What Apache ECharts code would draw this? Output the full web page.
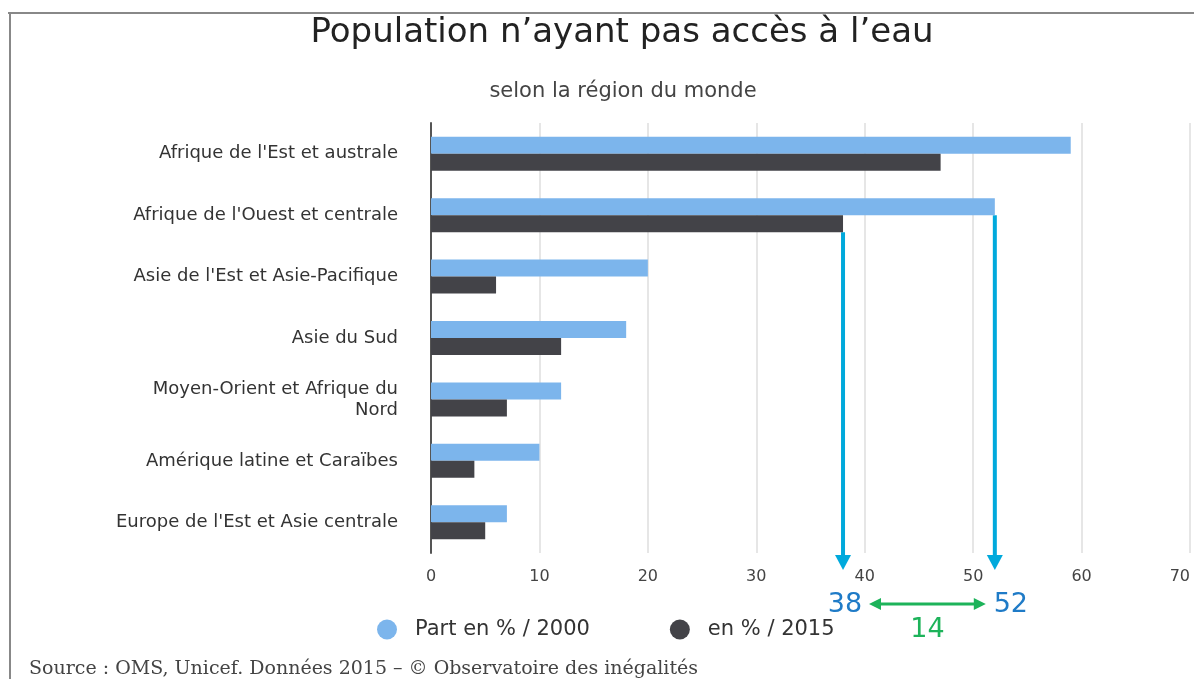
<!DOCTYPE html>
<html>
<head>
<meta charset="utf-8">
<script src="https://cdn.jsdelivr.net/npm/echarts@6/dist/echarts.min.js"></script>
<style>
html, body { margin: 0; padding: 0; background: #fff; }
#chart { width: 1194px; height: 679px; }
</style>
</head>
<body>
<div id="chart"></div>
<script>
// regions, top to bottom
var regions = [
    "Afrique de l'Est et australe",
    "Afrique de l'Ouest et centrale",
    "Asie de l'Est et Asie-Pacifique",
    "Asie du Sud",
    "Moyen-Orient et Afrique du Nord",
    "Amérique latine et Caraïbes",
    "Europe de l'Est et Asie centrale"
];
var part2000 = [59, 52, 20, 18, 12, 10, 7];
var part2015 = [47, 38, 6, 12, 7, 4, 5];
var seriesNames = ['Part en % / 2000', 'en % / 2015'];
var xMin = 0, xMax = 70, xStep = 10;
// the two values pointed out under the axis (Afrique de l'Ouest)
var noteRegion = 1;
var noteLow = 38, noteHigh = 52;

var barW = 17;
var sans = 'DejaVu Sans';
var chart = echarts.init(document.getElementById('chart'));

var option = {
    animation: false,
    title: [{
        text: 'Population n’ayant pas accès à l’eau',
        left: 617,
        top: 11,
        textAlign: 'center',
        textStyle: { fontFamily: sans, fontSize: 34, fontWeight: 'normal', color: '#222' }
    }, {
        text: 'selon la région du monde',
        left: 618,
        top: 76,
        textAlign: 'center',
        textStyle: { fontFamily: sans, fontSize: 21, fontWeight: 'normal', color: '#444' }
    }, {
        text: 'Source : OMS, Unicef. Données 2015 – © Observatoire des inégalités',
        left: 24,
        top: 655,
        textStyle: { fontFamily: 'DejaVu Serif', fontSize: 19, fontWeight: 'normal', color: '#444' }
    }],
    legend: {
        data: seriesNames,
        left: 372,
        top: 614,
        icon: 'path://M0,10A10,10,0,1,1,20,10A10,10,0,1,1,0,10Z',
        itemWidth: 26,
        itemHeight: 20,
        itemGap: 80,
        textStyle: { fontFamily: sans, fontSize: 21, color: '#333', padding: [0, 0, 0, 10] }
    },
    grid: {
        left: 431,
        right: 4,
        top: 123,
        bottom: 126,
        outerBoundsMode: 'none',
        containLabel: false
    },
    xAxis: {
        type: 'value',
        min: xMin,
        max: xMax,
        interval: xStep,
        axisLine: { show: false },
        axisTick: { show: false },
        splitLine: { lineStyle: { color: '#e6e6e6', width: 2 } },
        axisLabel: { margin: 16, fontFamily: sans, fontSize: 16, color: '#444', alignMaxLabel: 'right' }
    },
    yAxis: {
        type: 'category',
        inverse: true,
        data: regions,
        axisLine: { lineStyle: { color: '#555', width: 2 } },
        axisTick: { length: 21, lineStyle: { color: '#ccd6eb' } },
        axisLabel: {
            margin: 33,
            fontFamily: sans,
            fontSize: 18,
            color: '#333',
            lineHeight: 21,
            align: 'right',
            formatter: function (v) {
                return v.replace(' du Nord', ' du\nNord');
            }
        }
    },
    series: [{
        name: seriesNames[0],
        type: 'bar',
        barWidth: barW,
        barGap: '0%',
        itemStyle: { color: '#7cb5ec' },
        data: part2000
    }, {
        name: seriesNames[1],
        type: 'bar',
        barWidth: barW,
        barGap: '0%',
        itemStyle: { color: '#434348' },
        data: part2015
    }]
};
chart.setOption(option);

// annotation arrows, placed through the axes
var xLow = chart.convertToPixel({ xAxisIndex: 0 }, noteLow);
var xHigh = chart.convertToPixel({ xAxisIndex: 0 }, noteHigh);
var yMid = chart.convertToPixel({ yAxisIndex: 0 }, noteRegion);
var band = chart.convertToPixel({ yAxisIndex: 0 }, 1) - chart.convertToPixel({ yAxisIndex: 0 }, 0);
var yAxisEnd = chart.convertToPixel({ yAxisIndex: 0 }, regions.length - 1) + band / 2;
var arrowEnd = yAxisEnd + 17;
var cyan = '#00a9dc';
var blue = '#1f7bc7';
var green = '#1db35a';

function downArrow(x, y0, y1) {
    return [{
        type: 'line',
        shape: { x1: x, y1: y0, x2: x, y2: y1 - 12 },
        style: { stroke: cyan, lineWidth: 4 }
    }, {
        type: 'polygon',
        shape: { points: [[x - 8, y1 - 15], [x + 8, y1 - 15], [x, y1]] },
        style: { fill: cyan }
    }];
}

var yRow = 604;
var gLeft = xLow + 26, gRight = xHigh - 9;
var graphics = [{
    type: 'line',
    shape: { x1: 10, y1: 13, x2: 10, y2: 679 },
    style: { stroke: '#888', lineWidth: 2 }
}, {
    type: 'line',
    shape: { x1: 8, y1: 13, x2: 1194, y2: 13 },
    style: { stroke: '#888', lineWidth: 2 }
}]
    .concat(downArrow(xHigh, yMid, arrowEnd))
    .concat(downArrow(xLow, yMid + barW, arrowEnd))
    .concat([{
        type: 'line',
        shape: { x1: gLeft + 10, y1: yRow, x2: gRight - 10, y2: yRow },
        style: { stroke: green, lineWidth: 3 }
    }, {
        type: 'polygon',
        shape: { points: [[gLeft, yRow], [gLeft + 12, yRow - 6], [gLeft + 12, yRow + 6]] },
        style: { fill: green }
    }, {
        type: 'polygon',
        shape: { points: [[gRight, yRow], [gRight - 12, yRow - 6], [gRight - 12, yRow + 6]] },
        style: { fill: green }
    }, {
        type: 'text',
        x: xLow + 2,
        y: yRow + 1,
        style: { text: String(noteLow), fill: blue, font: '27px "DejaVu Sans"', textAlign: 'center', textVerticalAlign: 'middle' }
    }, {
        type: 'text',
        x: xHigh + 16,
        y: yRow + 1,
        style: { text: String(noteHigh), fill: blue, font: '27px "DejaVu Sans"', textAlign: 'center', textVerticalAlign: 'middle' }
    }, {
        type: 'text',
        x: (gLeft + gRight) / 2,
        y: yRow + 26,
        style: { text: String(noteHigh - noteLow), fill: green, font: '27px "DejaVu Sans"', textAlign: 'center', textVerticalAlign: 'middle' }
    }]);

chart.setOption({ graphic: graphics });
</script>
</body>
</html>
